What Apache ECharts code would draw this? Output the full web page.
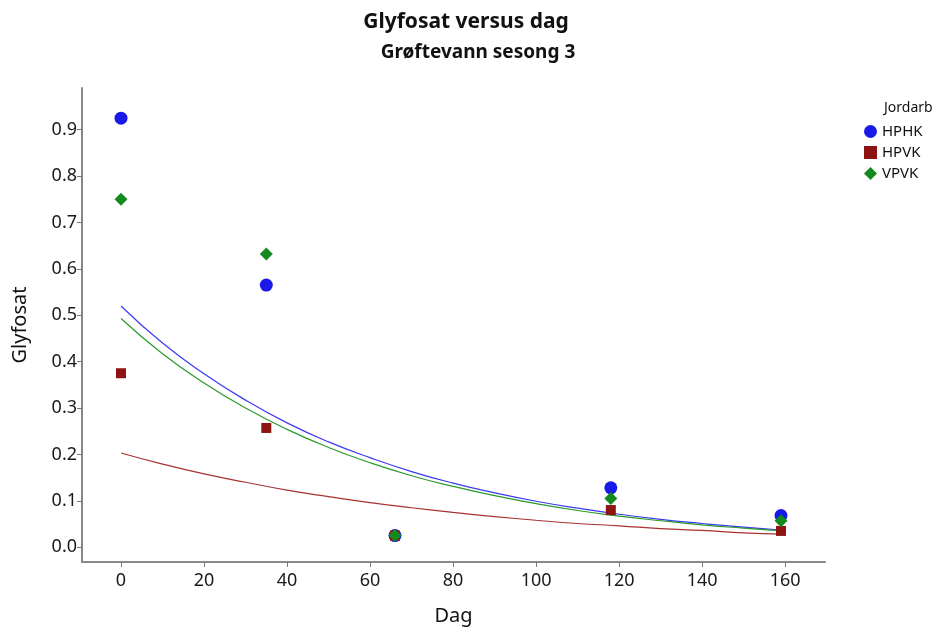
<!DOCTYPE html>
<html>
<head>
<meta charset="utf-8">
<script src="https://cdn.jsdelivr.net/npm/echarts@6/dist/echarts.min.js"></script>
<style>
  html, body { margin: 0; padding: 0; background: #fff; }
  #chart { width: 940px; height: 631px; }
</style>
</head>
<body>
<div id="chart"></div>
<script>
// målte punkter
var dager = [0, 35, 66, 118, 159];
var hphk = [0.925, 0.565, 0.025, 0.128, 0.068];
var hpvk = [0.375, 0.257, 0.025, 0.080, 0.035];
var vpvk = [0.750, 0.632, 0.025, 0.105, 0.057];

// tilpassede kurver
var kurveX = [0, 10, 20, 30, 40, 50, 60, 70, 80, 90, 100, 110, 120, 130, 140, 150, 159];
var kurveHPHK = [0.520, 0.440, 0.374, 0.317, 0.268, 0.227, 0.193, 0.163, 0.138, 0.117, 0.099, 0.084, 0.071, 0.060, 0.051, 0.043, 0.037];
var kurveHPVK = [0.203, 0.179, 0.158, 0.140, 0.123, 0.109, 0.096, 0.085, 0.075, 0.066, 0.058, 0.051, 0.046, 0.040, 0.036, 0.031, 0.028];
var kurveVPVK = [0.493, 0.417, 0.354, 0.300, 0.254, 0.215, 0.182, 0.154, 0.131, 0.111, 0.094, 0.079, 0.067, 0.057, 0.048, 0.041, 0.035];

var xTicks = [0, 20, 40, 60, 80, 100, 120, 140, 160];
var yTicks = [0, 0.1, 0.2, 0.3, 0.4, 0.5, 0.6, 0.7, 0.8, 0.9];

function par(xs, ys) {
  var out = [];
  for (var i = 0; i < xs.length; i++) out.push([xs[i], ys[i]]);
  return out;
}

var font = 'Noto Sans';
var chart = echarts.init(document.getElementById('chart'));

var option = {
  animation: false,
  textStyle: { fontFamily: font },
  title: [{
    text: 'Glyfosat versus dag',
    left: 461,
    textAlign: 'center',
    top: 7,
    textStyle: { fontFamily: font, fontSize: 21, fontWeight: 'bold', color: '#111' }
  }, {
    text: 'Grøftevann sesong 3',
    left: 473,
    textAlign: 'center',
    top: 38,
    textStyle: { fontFamily: font, fontSize: 19, fontWeight: 'bold', color: '#111' }
  }, {
    text: 'Jordarb',
    left: 879,
    top: 96,
    textStyle: { fontFamily: font, fontSize: 14, fontWeight: 'normal', color: '#111' }
  }],
  legend: {
    data: ['HPHK', 'HPVK', 'VPVK'],
    orient: 'vertical',
    left: 859,
    top: 119,
    itemGap: 6,
    itemWidth: 13,
    itemHeight: 13,
    textStyle: { fontFamily: font, fontSize: 15, color: '#111' }
  },
  grid: { left: 82, right: 115, top: 88, bottom: 66 },
  xAxis: {
    type: 'value',
    min: -9.4,
    max: 169.6,
    name: 'Dag',
    nameLocation: 'middle',
    nameGap: 44,
    nameTextStyle: { fontFamily: font, fontSize: 20, color: '#111' },
    axisLine: { show: true, onZero: false, lineStyle: { color: '#888', width: 2 } },
    axisTick: { show: true, customValues: xTicks, length: 5, lineStyle: { color: '#777', width: 1 } },
    axisLabel: { customValues: xTicks, fontSize: 18, color: '#1a1a1a', margin: 10 },
    splitLine: { show: false }
  },
  yAxis: {
    type: 'value',
    min: -0.032,
    max: 0.99,
    name: 'Glyfosat',
    nameLocation: 'middle',
    nameGap: 52,
    nameTextStyle: { fontFamily: font, fontSize: 20, color: '#111' },
    axisLine: { show: true, onZero: false, lineStyle: { color: '#888', width: 2 } },
    axisTick: { show: true, customValues: yTicks, length: 5, lineStyle: { color: '#777', width: 1 } },
    axisLabel: {
      customValues: yTicks, fontSize: 18, color: '#1a1a1a', margin: 5,
      formatter: function (v) { return v.toFixed(1); }
    },
    splitLine: { show: false }
  },
  series: [{
    name: 'HPHK-kurve', type: 'line', data: par(kurveX, kurveHPHK),
    smooth: true, showSymbol: false, silent: true,
    lineStyle: { color: '#3a3af2', width: 1.2 }, z: 2
  }, {
    name: 'VPVK-kurve', type: 'line', data: par(kurveX, kurveVPVK),
    smooth: true, showSymbol: false, silent: true,
    lineStyle: { color: '#2a9a2a', width: 1.2 }, z: 2
  }, {
    name: 'HPVK-kurve', type: 'line', data: par(kurveX, kurveHPVK),
    smooth: true, showSymbol: false, silent: true,
    lineStyle: { color: '#a83232', width: 1.2 }, z: 2
  }, {
    name: 'HPHK', type: 'scatter', data: par(dager, hphk),
    symbol: 'circle', symbolSize: 13,
    itemStyle: { color: '#1a1ae8', opacity: 1 }, z: 3
  }, {
    name: 'HPVK', type: 'scatter', data: par(dager, hpvk),
    symbol: 'rect', symbolSize: 10,
    itemStyle: { color: '#8e1414', opacity: 1 }, z: 4
  }, {
    name: 'VPVK', type: 'scatter', data: par(dager, vpvk),
    symbol: 'diamond', symbolSize: 13,
    itemStyle: { color: '#128a1e', opacity: 1 }, z: 5
  }]
};
chart.setOption(option);
</script>
</body>
</html>
